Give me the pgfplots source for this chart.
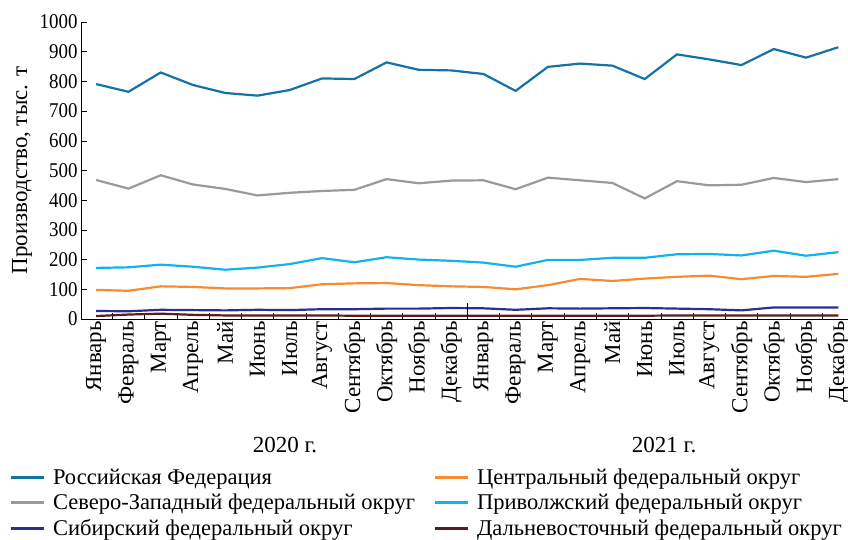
\documentclass[border=0pt]{standalone}
\usepackage{pgfplots}
\pgfplotsset{compat=1.18}
\usepackage{pgfplotstable}
\usepackage{fontspec}
\setmainfont{Liberation Serif}
\newfontfamily\numfont{Liberation Serif}[FakeStretch=0.9]
\definecolor{cRF}{HTML}{1273A6}
\definecolor{cNW}{HTML}{9A9A9A}
\definecolor{cV}{HTML}{12B2EC}
\definecolor{cC}{HTML}{F68B2F}
\definecolor{cS}{HTML}{2D2E8F}
\definecolor{cFE}{HTML}{5A1C1C}
\pgfplotstableread{
x RF C NW V S FE
0 791 98 468 172 27 10
1 765 95 439 174 26 15
2 830 110 484 183 31 18
3 788 108 453 176 30 14
4 761 103 438 166 29 12
5 752 103 416 173 31 12
6 771 104 425 185 30 12
7 810 117 431 205 33 12
8 808 120 435 191 33 11
9 864 121 471 208 35 11
10 839 114 457 200 35 11
11 837 110 466 196 37 11
12 825 108 467 190 36 11
13 768 100 437 176 31 11
14 849 114 476 199 36 11
15 860 135 467 199 35 11
16 853 128 458 206 36 11
17 808 136 406 206 37 11
18 891 142 464 218 35 12
19 874 146 450 219 33 12
20 855 134 452 214 29 12
21 909 145 475 230 39 12
22 880 142 461 213 39 12
23 915 152 471 225 39 12
}\datatable
\begin{document}
\begin{tikzpicture}[x=1pt,y=1pt]
\path[use as bounding box] (0,0) rectangle (848,539);
\begin{axis}[
  at={(81pt,220pt)}, anchor=south west,
  scale only axis, width=767pt, height=297pt,
  xmin=-0.47, xmax=23.3, ymin=0, ymax=1000,
  axis x line*=bottom, axis y line*=left,
  axis line style={-, line width=0.8pt},
  clip=false,
  tick align=inside,
  ytick={0,100,...,1000},
  /pgf/number format/assume math mode=true,
  /pgf/number format/1000 sep={},
  yticklabel style={font=\numfont\fontsize{21}{24}\selectfont},
  major tick length=6pt,
  minor tick length=6pt,
  tick style={black, line width=0.6pt},
  xtick={0,...,23},
  major x tick style={draw=none},
  minor xtick={0.5,1.5,...,10.5,12.5,13.5,...,22.5},
  xticklabels={Январь,Февраль,Март,Апрель,Май,Июнь,Июль,Август,Сентябрь,Октябрь,Ноябрь,Декабрь,Январь,Февраль,Март,Апрель,Май,Июнь,Июль,Август,Сентябрь,Октябрь,Ноябрь,Декабрь},
  xticklabel style={rotate=90, anchor=east, font=\fontsize{23}{26}\selectfont, inner sep=2pt},
  ylabel={Производство, тыс. т},
  ylabel style={at={(axis description cs:-0.077,0.5)}, anchor=center, font=\fontsize{23}{26}\selectfont},
  legend columns=2,
  legend cell align=left,
  legend image code/.code={\draw[#1, line width=3pt] (0pt,0pt) -- (33pt,0pt);},
  legend style={at={(axis description cs:-0.098,-0.4916)}, anchor=north west, draw=none, fill=none,
    font=\fontsize{22.5}{25}\selectfont, row sep=4pt,
    /tikz/every odd column/.append style={column sep=6pt},
    /tikz/every even column/.append style={column sep=16pt}},
  every axis plot/.append style={line width=2.2pt},
]
\addplot[cRF] table[x=x,y=RF] {\datatable};
\addlegendentry{Российская Федерация}
\addplot[cC] table[x=x,y=C] {\datatable};
\addlegendentry{Центральный федеральный округ}
\addplot[cNW] table[x=x,y=NW] {\datatable};
\addlegendentry{Северо-Западный федеральный округ}
\addplot[cV] table[x=x,y=V] {\datatable};
\addlegendentry{Приволжский федеральный округ}
\addplot[cS] table[x=x,y=S] {\datatable};
\addlegendentry{Сибирский федеральный округ}
\addplot[cFE] table[x=x,y=FE] {\datatable};
\addlegendentry{Дальневосточный федеральный округ}
\draw[black, line width=0.6pt] (axis cs:11.5,0) -- ([yshift=16pt]axis cs:11.5,0);
\node[font=\fontsize{23}{26}\selectfont] at (axis cs:5.85,0) [yshift=-126.5pt] {2020 г.};
\node[font=\fontsize{23}{26}\selectfont] at (axis cs:17.6,0) [yshift=-126.5pt] {2021 г.};
\end{axis}
\end{tikzpicture}
\end{document}
